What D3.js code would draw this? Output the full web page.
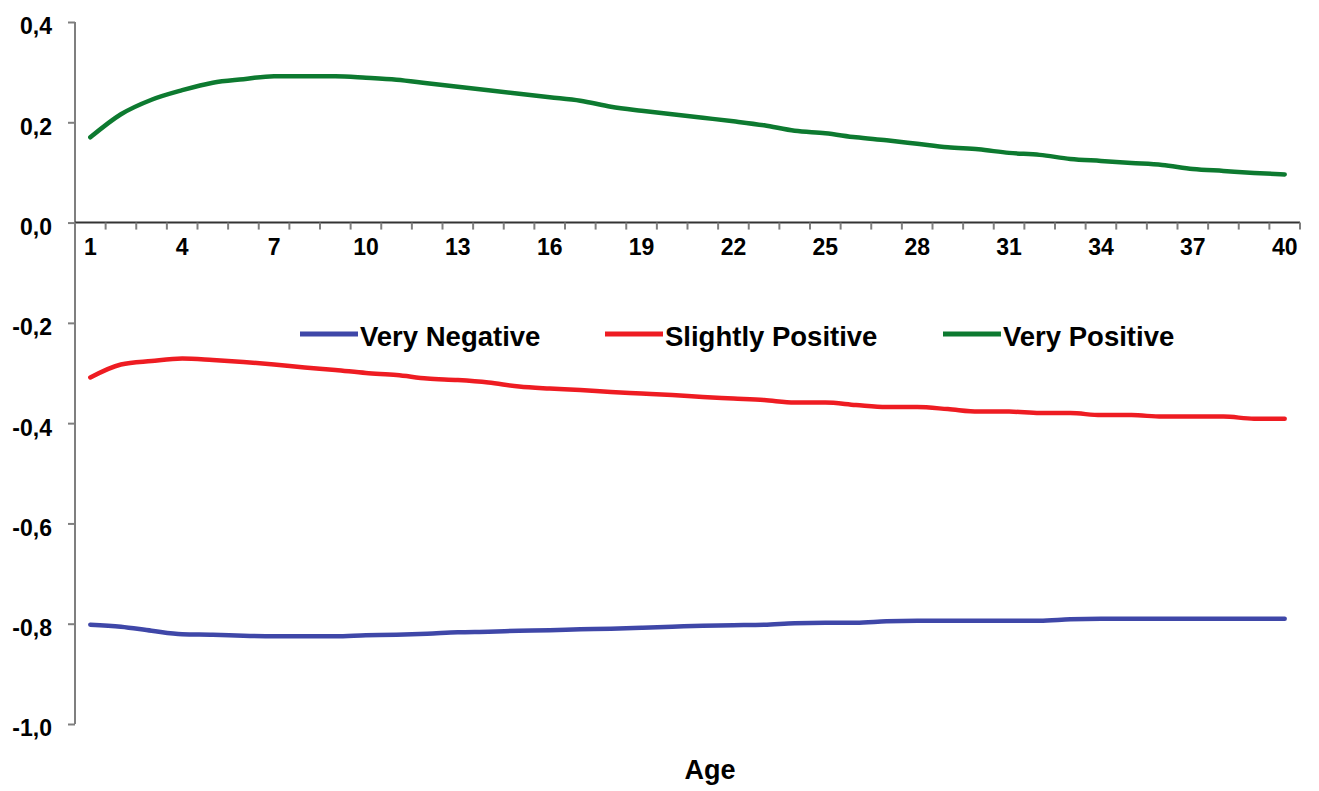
<!DOCTYPE html>
<html>
<head>
<meta charset="utf-8">
<script src="https://cdn.jsdelivr.net/npm/d3@7/dist/d3.min.js"></script>
<style>
    body { margin: 0; background: #fff; }
    svg { display: block; }
    .tick-label { font-family: "Liberation Sans", Arial, sans-serif; font-weight: bold; fill: #000; }
</style>
</head>
<body>
<svg id="chart" width="1319" height="791"></svg>
<script>
// Age categories 1..40
var ages = [1, 2, 3, 4, 5, 6, 7, 8, 9, 10, 11, 12, 13, 14, 15, 16, 17, 18, 19, 20,
            21, 22, 23, 24, 25, 26, 27, 28, 29, 30, 31, 32, 33, 34, 35, 36, 37, 38, 39, 40];

var ageLabels = [1, 4, 7, 10, 13, 16, 19, 22, 25, 28, 31, 34, 37, 40];

var yTicks = [-1.0, -0.8, -0.6, -0.4, -0.2, 0.0, 0.2, 0.4];

var seriesNames = ["Very Negative", "Slightly Positive", "Very Positive"];

var veryNegative = [-0.802, -0.806, -0.814, -0.821, -0.822, -0.824, -0.825, -0.825, -0.825, -0.823,
                    -0.822, -0.820, -0.817, -0.816, -0.814, -0.813, -0.811, -0.810, -0.808, -0.806,
                    -0.804, -0.803, -0.802, -0.799, -0.798, -0.798, -0.795, -0.794, -0.794, -0.794,
                    -0.794, -0.794, -0.791, -0.790, -0.790, -0.790, -0.790, -0.790, -0.790, -0.790];

var slightlyPositive = [-0.309, -0.283, -0.276, -0.271, -0.274, -0.278, -0.283, -0.289, -0.294, -0.300,
                        -0.304, -0.311, -0.314, -0.319, -0.327, -0.331, -0.334, -0.338, -0.341, -0.344,
                        -0.348, -0.351, -0.354, -0.359, -0.359, -0.364, -0.368, -0.368, -0.372, -0.377,
                        -0.377, -0.380, -0.380, -0.384, -0.384, -0.387, -0.387, -0.387, -0.391, -0.391];

var veryPositive = [0.170, 0.216, 0.245, 0.264, 0.279, 0.286, 0.292, 0.292, 0.292, 0.289,
                    0.285, 0.278, 0.271, 0.264, 0.257, 0.250, 0.243, 0.231, 0.223, 0.216,
                    0.209, 0.202, 0.194, 0.183, 0.178, 0.170, 0.164, 0.157, 0.150, 0.146,
                    0.139, 0.135, 0.127, 0.123, 0.119, 0.115, 0.107, 0.103, 0.099, 0.096];

var colors = ["#3f47a8", "#ee1c22", "#0d7a30"];

var svg = d3.select("#chart");

var x = d3.scaleBand().domain(ages).range([75, 1300]);
var y = d3.scaleLinear().domain([-1.0, 0.4]).range([724, 22]);

function fmt(v) {
    // comma decimal separator like the original
    return d3.format(".1f")(v).replace(".", ",").replace("−", "-");
}

function cx(a) {
    return x(a) + x.bandwidth() / 2;
}

// Y axis
var yAxis = svg.append("g")
    .attr("transform", "translate(75,0)")
    .call(d3.axisLeft(y).tickValues(yTicks).tickSize(7).tickFormat(fmt));

yAxis.select(".domain").attr("stroke", "#7f7f7f").attr("stroke-width", 2)
    .attr("d", "M0," + y(0.4) + "V" + y(-1.0));
yAxis.selectAll(".tick line").attr("stroke", "#7f7f7f").attr("stroke-width", 2);
yAxis.selectAll(".tick text")
    .attr("class", "tick-label")
    .attr("x", -23)
    .attr("dy", "0.52em")
    .style("font-size", "23px");

// X axis along zero
var xAxis = svg.append("g")
    .attr("transform", "translate(0," + y(0) + ")")
    .call(d3.axisBottom(x).tickValues(ageLabels).tickSize(0).tickPadding(16));

xAxis.select(".domain").attr("stroke", "#333").attr("stroke-width", 2)
    .attr("d", "M75,0H1300");
xAxis.selectAll(".tick text")
    .attr("class", "tick-label")
    .style("font-size", "23px");

// tick marks on the category boundaries
var bounds = ages.map(function(a) { return x(a); }).concat([x.range()[1]]);
xAxis.selectAll("line.bound")
    .data(bounds)
    .enter().append("line")
    .attr("class", "bound")
    .attr("x1", function(d) { return d; })
    .attr("x2", function(d) { return d; })
    .attr("y1", 0)
    .attr("y2", 7)
    .attr("stroke", "#7f7f7f")
    .attr("stroke-width", 2);

// Lines
var allSeries = [veryNegative, slightlyPositive, veryPositive];

var line = d3.line()
    .x(function(d, i) { return cx(ages[i]); })
    .y(function(d) { return y(d); })
    .curve(d3.curveMonotoneX);

svg.append("g")
    .selectAll("path")
    .data(allSeries)
    .enter().append("path")
    .attr("d", line)
    .attr("fill", "none")
    .attr("stroke", function(d, i) { return colors[i]; })
    .attr("stroke-width", 4.5)
    .attr("stroke-linecap", "round")
    .attr("stroke-linejoin", "round");

// Legend
var legendX = [300, 605, 943];
var legend = svg.append("g")
    .selectAll("g")
    .data(seriesNames)
    .enter().append("g")
    .attr("transform", function(d, i) { return "translate(" + legendX[i] + ",334)"; });

legend.append("line")
    .attr("x1", 0)
    .attr("x2", 58)
    .attr("stroke", function(d, i) { return colors[i]; })
    .attr("stroke-width", 5);

legend.append("text")
    .attr("class", "tick-label")
    .attr("x", 60)
    .attr("y", 12)
    .style("font-size", "27.5px")
    .text(function(d) { return d; });

// Axis title
svg.append("text")
    .attr("class", "tick-label")
    .attr("x", 710)
    .attr("y", 779)
    .attr("text-anchor", "middle")
    .style("font-size", "27px")
    .text("Age");
</script>
</body>
</html>
